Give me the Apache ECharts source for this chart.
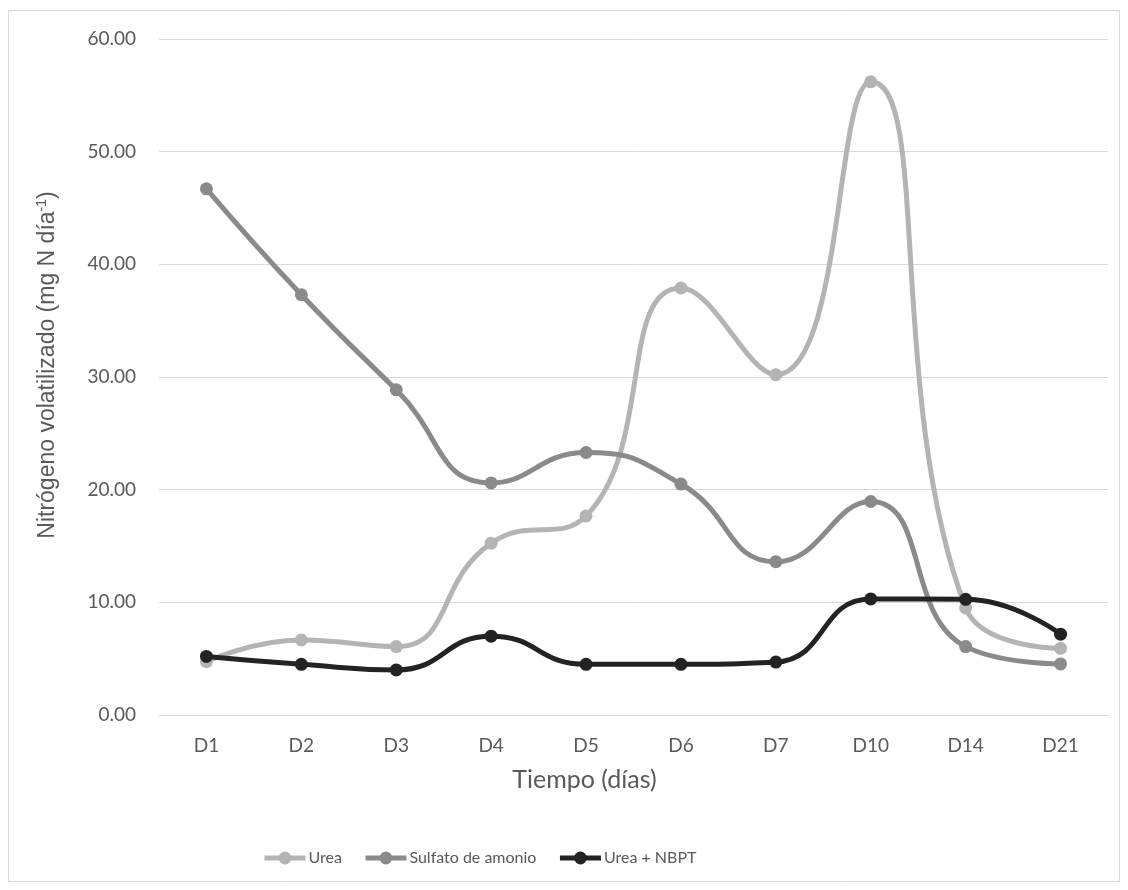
<!DOCTYPE html>
<html>
<head>
<meta charset="utf-8">
<script src="https://cdn.jsdelivr.net/npm/echarts@6/dist/echarts.min.js"></script>
<style>
html,body{margin:0;padding:0;background:#fff;}
#chart{width:1128px;height:890px;}
</style>
</head>
<body>
<div id="chart"></div>
<script>
const categories = ['D1','D2','D3','D4','D5','D6','D7','D10','D14','D21'];
const urea = [4.73, 6.66, 6.07, 15.25, 17.67, 37.9, 30.2, 56.2, 9.5, 5.92];
const sulfato = [46.7, 37.3, 28.86, 20.6, 23.3, 20.5, 13.6, 18.95, 6.07, 4.53];
const ureaNbpt = [5.2, 4.5, 4.0, 7.0, 4.5, 4.5, 4.7, 10.3, 10.27, 7.17];
const yTicks = {min: 0, max: 60, interval: 10};

const FONT = 'Lato, "Open Sans", sans-serif';
const YFONT = '"Liberation Sans", Arial, sans-serif';
const TXT = '#595959';

const chart = echarts.init(document.getElementById('chart'));
function mk(name, data, color) {
  return {
    name: name, type: 'line', data: data, smooth: 0.5,
    symbol: 'circle', symbolSize: 13,
    lineStyle: {width: 5, color: color},
    itemStyle: {color: color},
    emphasis: {disabled: true}
  };
}
chart.setOption({
  animation: false,
  backgroundColor: '#fff',
  graphic: [{
    type: 'rect', shape: {x: 8.5, y: 10.5, width: 1111, height: 871},
    style: {fill: 'none', stroke: '#d9d9d9', lineWidth: 1}, silent: true, z: -1
  }],
  grid: {left: 159, right: 20, top: 39, bottom: 175},
  legend: {
    top: 845, left: 257,
    itemWidth: 41, itemHeight: 16, itemGap: 21,
    lineStyle: {width: 5},
    textStyle: {fontFamily: FONT, fontSize: 16, color: TXT, padding: [0, 0, 0, -2]},
    data: ['Urea', 'Sulfato de amonio', 'Urea + NBPT']
  },
  xAxis: {
    type: 'category', data: categories, boundaryGap: true,
    name: 'Tiempo (días)', nameLocation: 'middle', nameGap: 52,
    nameTextStyle: {fontFamily: FONT, fontSize: 25, color: TXT, padding: [0, 98, 0, 0]},
    axisLine: {lineStyle: {color: '#d9d9d9', width: 1}},
    axisTick: {show: false},
    axisLabel: {fontFamily: FONT, fontSize: 19, color: TXT, margin: 21}
  },
  yAxis: {
    type: 'value', min: yTicks.min, max: yTicks.max, interval: yTicks.interval,
    name: 'Nitrógeno volatilizado (mg N día{sup|-1})', nameLocation: 'middle', nameGap: 98,
    nameTextStyle: {fontFamily: YFONT, fontSize: 23, color: TXT, padding: [0, 0, 0, 24],
      rich: {sup: {fontFamily: YFONT, fontSize: 14, color: TXT, verticalAlign: 'bottom', padding: [0, 0, 12, 0]}}},
    axisLine: {show: false},
    axisTick: {show: false},
    splitLine: {lineStyle: {color: '#d9d9d9', width: 1}},
    axisLabel: {fontFamily: FONT, fontSize: 19, color: TXT, margin: 23,
      formatter: v => v.toFixed(2)}
  },
  series: [
    mk('Urea', urea, '#b4b4b4'),
    mk('Sulfato de amonio', sulfato, '#8a8a8a'),
    mk('Urea + NBPT', ureaNbpt, '#232323')
  ]
});
</script>
</body>
</html>
